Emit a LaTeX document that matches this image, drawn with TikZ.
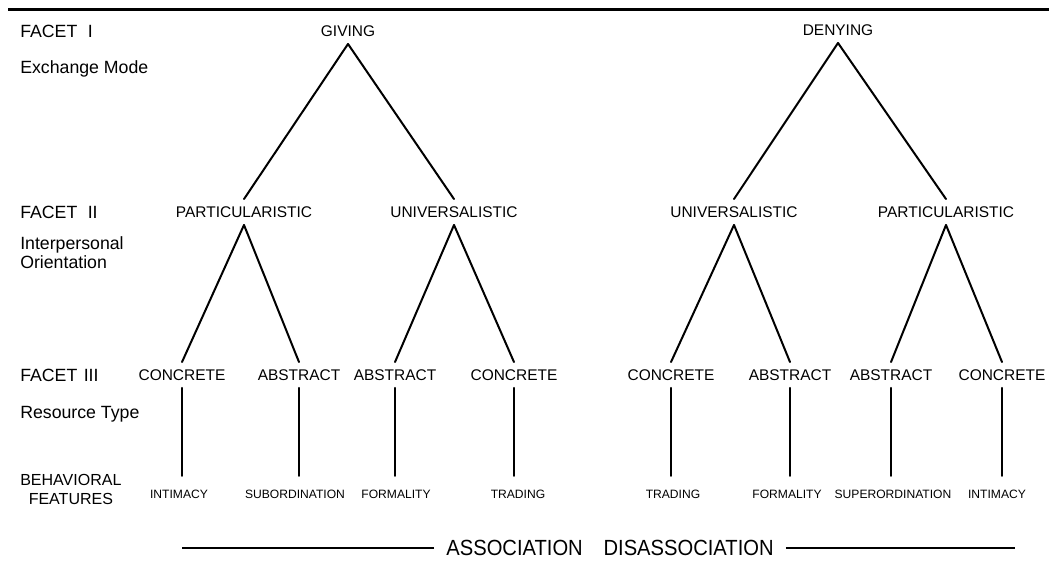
\documentclass[tikz,border=0pt]{standalone}
\usepackage{fontspec}
\setmainfont{Liberation Sans}
\newfontfamily\captionfont[FakeStretch=0.92]{Liberation Sans}

\begin{document}
\begin{tikzpicture}[x=0.25mm, y=-0.25mm,
    facet/.style={anchor=west, inner sep=0pt, font=\fontsize{12.6}{13.5}\selectfont},
    branch/.style={inner xsep=0pt, inner ysep=1.8mm, font=\fontsize{11}{13}\selectfont},
    feature/.style={inner xsep=0pt, inner ysep=3.4mm, font=\fontsize{8.6}{10}\selectfont},
    link/.style={line width=0.5mm, line cap=round}]
    % One unit is a quarter millimetre; y counts down from the top edge.
    \useasboundingbox (0,0) rectangle (1049,565);
    \draw[line width=0.75mm] (8,9) -- (1049,9);

    % Facet names down the left margin
    \node[facet] (facetone) at (20,31) {FACET\hspace{2.6mm}I};
    \node[facet] (modelbl) at (20,69) {Exchange Mode};
    \node[facet] (facettwo) at (20,212) {FACET\hspace{2.6mm}II};
    \node[facet, align=left] (orientlbl) at (20,253) {Interpersonal\\Orientation};
    \node[facet] (facetthree) at (20,375) {FACET\hspace{1.6mm}III};
    \node[facet] (typelbl) at (20,414) {Resource Type};
    \node[facet, align=center, font=\fontsize{11.4}{13.5}\selectfont] (featlbl) at (20,489)
      {BEHAVIORAL\\FEATURES};

    % Facet I: exchange mode
    \node[branch] (give) at (348,31) {GIVING};
    \node[branch] (deny) at (838,30) {DENYING};

    % Facet II: orientation
    \node[branch] (givepart) at (244,212) {PARTICULARISTIC};
    \node[branch] (giveuniv) at (454,212) {UNIVERSALISTIC};
    \node[branch] (denyuniv) at (734,212) {UNIVERSALISTIC};
    \node[branch] (denypart) at (946,212) {PARTICULARISTIC};

    % Facet III: resource type
    \node[branch] (gpconc) at (182,375) {CONCRETE};
    \node[branch] (gpabst) at (299,375) {ABSTRACT};
    \node[branch] (guabst) at (395,375) {ABSTRACT};
    \node[branch] (guconc) at (514,375) {CONCRETE};
    \node[branch] (duconc) at (671,375) {CONCRETE};
    \node[branch] (duabst) at (790,375) {ABSTRACT};
    \node[branch] (dpabst) at (891,375) {ABSTRACT};
    \node[branch] (dpconc) at (1002,375) {CONCRETE};

    % behavioral features under each resource
    \node[feature] (gpconcf) at (179,494) {INTIMACY};
    \node[feature] (gpabstf) at (295,494) {SUBORDINATION};
    \node[feature] (guabstf) at (396,494) {FORMALITY};
    \node[feature] (guconcf) at (518,494) {TRADING};
    \node[feature] (duconcf) at (673,494) {TRADING};
    \node[feature] (duabstf) at (787,494) {FORMALITY};
    \node[feature] (dpabstf) at (893,494) {SUPERORDINATION};
    \node[feature] (dpconcf) at (997,494) {INTIMACY};

    \draw[link] (give.south) -- (givepart.north);
    \draw[link] (give.south) -- (giveuniv.north);
    \draw[link] (deny.south) -- (denyuniv.north);
    \draw[link] (deny.south) -- (denypart.north);

    \draw[link] (givepart.south) -- (gpconc.north);
    \draw[link] (givepart.south) -- (gpabst.north);
    \draw[link] (giveuniv.south) -- (guabst.north);
    \draw[link] (giveuniv.south) -- (guconc.north);
    \draw[link] (denyuniv.south) -- (duconc.north);
    \draw[link] (denyuniv.south) -- (duabst.north);
    \draw[link] (denypart.south) -- (dpabst.north);
    \draw[link] (denypart.south) -- (dpconc.north);

    \foreach \res in {gpconc,gpabst,guabst,guconc,duconc,duabst,dpabst,dpconc}
      \draw[link] (\res.south) -- (\res.south |- \res f.north);

    % continuum along the bottom
    \node[inner xsep=3mm, inner ysep=0pt, font=\captionfont\fontsize{15.6}{17}\selectfont]
      (assoc) at (610,548) {ASSOCIATION\hspace{5.2mm}DISASSOCIATION};
    \coordinate (assocleft) at (182,548);
    \coordinate (assocright) at (1015,548);
    \draw[line width=0.4mm] (assoc.west) -- (assocleft);
    \draw[line width=0.4mm] (assoc.east) -- (assocright);
\end{tikzpicture}
\end{document}
